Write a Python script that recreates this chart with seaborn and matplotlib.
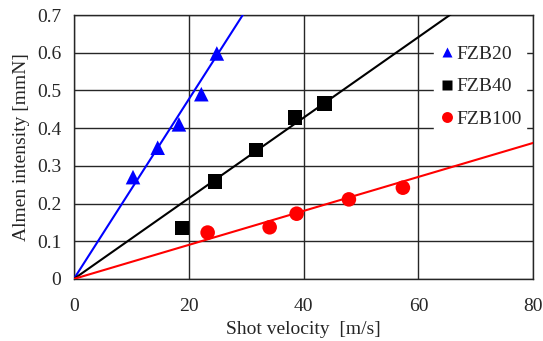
import matplotlib
matplotlib.use("Agg")
import matplotlib.pyplot as plt
import pandas as pd
import numpy as np
import seaborn as sns

# values
fzb20_v = [10.3, 14.6, 18.3, 22.2, 24.9]
fzb20_a = [0.270, 0.348, 0.410, 0.490, 0.598]
fzb40_v = [18.8, 24.6, 31.7, 38.5, 43.7]
fzb40_a = [0.135, 0.258, 0.342, 0.428, 0.465]
fzb100_v = [23.3, 34.1, 38.8, 47.9, 57.3]
fzb100_a = [0.123, 0.137, 0.173, 0.211, 0.242]

series = ['FZB20', 'FZB40', 'FZB100']
fit_slopes = [0.0238, 0.01069, 0.00451]  # trend lines through origin
colors = ['#0000ff', '#000000', '#ff0000']
markers = ['^', 's', 'o']

df = pd.concat([
    pd.DataFrame({'v': fzb20_v, 'a': fzb20_a, 'grade': 'FZB20'}),
    pd.DataFrame({'v': fzb40_v, 'a': fzb40_a, 'grade': 'FZB40'}),
    pd.DataFrame({'v': fzb100_v, 'a': fzb100_a, 'grade': 'FZB100'}),
])

sns.set_style('white')
plt.rcParams['font.family'] = ['Liberation Serif', 'DejaVu Serif']

fig = plt.figure(figsize=(5.43, 3.41), dpi=100)
ax = fig.add_axes([0.136, 0.182, 0.846, 0.774])

# trend lines
vx = np.array([0, 80])
for s, k, c in zip(series, fit_slopes, colors):
    sns.lineplot(x=vx, y=k * vx, color=c, lw=1.5, ax=ax, zorder=3)

sns.scatterplot(data=df, x='v', y='a', hue='grade', style='grade',
                palette=dict(zip(series, colors)), markers=dict(zip(series, markers)),
                s=110, edgecolor='none', ax=ax, zorder=4)

ax.set_xlim(0, 80)
ax.set_ylim(0, 0.7)
ax.set_xticks([0, 20, 40, 60, 80])
ax.set_yticks(np.arange(0, 0.71, 0.1))
ax.set_yticklabels(['0', '0.1', '0.2', '0.3', '0.4', '0.5', '0.6', '0.7'])
ax.grid(True, color='#262626', lw=1.0)
ax.set_axisbelow(True)
for sp in ax.spines.values():
    sp.set_color('#262626')
    sp.set_linewidth(1.0)
ax.tick_params(axis='both', length=6, width=1.0, color='#262626', labelsize=14, pad=3)
ax.tick_params(axis='x', pad=8)
ax.set_xlabel('Shot velocity  [m/s]', fontsize=14, labelpad=4)
ax.set_ylabel('Almen intensity [mmN]', fontsize=14, labelpad=5)

leg = ax.legend(loc='upper right', bbox_to_anchor=(0.985, 0.905), frameon=True,
                fontsize=14, handletextpad=0.0, borderpad=0.25, labelspacing=0.78,
                markerscale=0.75, handlelength=0.9, borderaxespad=0)
leg.get_frame().set_facecolor('white')
leg.get_frame().set_edgecolor('white')
leg.get_frame().set_alpha(1)
leg.set_zorder(5)

fig.savefig('out.png', dpi=100)
